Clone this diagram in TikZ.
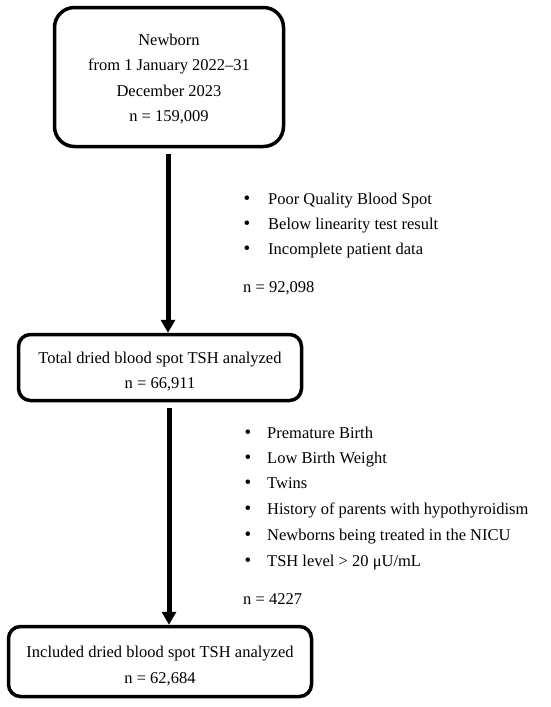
\documentclass[tikz,border=0pt]{standalone}
\usepackage{fontspec}
\setmainfont{Liberation Serif}
\usetikzlibrary{arrows.meta}
\tikzset{
  flowbox/.style={draw, line width=3.5pt, inner sep=0pt},
  boxtext/.style={align=center, inner sep=0pt, font=\fontsize{16.5}{25.5}\selectfont},
  flowarrow/.style={line width=5pt, -{Triangle[width=14pt,length=13pt]}, shorten <=6pt},
  itemtext/.style={anchor=base west, inner sep=0pt, font=\fontsize{16.5}{19}\selectfont},
  bulletdot/.style={anchor=base, inner sep=0pt, font=\fontsize{19}{19}\selectfont},
}
\begin{document}
\begin{tikzpicture}[x=1pt,y=-1pt]
\useasboundingbox (0,0) rectangle (550,707);
% boxes
\node[flowbox, rounded corners=20pt, minimum width=229pt, minimum height=139pt] (box1) at (169,77) {};
\node[boxtext] (box1t) at (169,79) {Newborn\\from 1 January 2022--31\\December 2023\\n = 159,009};
\node[flowbox, rounded corners=12pt, minimum width=283pt, minimum height=66pt] (box2) at (160,367.5) {};
\node[boxtext] (box2t) at (160,371.5) {Total dried blood spot TSH analyzed\\n = 66,911};
\node[flowbox, rounded corners=12pt, minimum width=303pt, minimum height=70pt] (box3) at (160,661.5) {};
\node[boxtext] (box3t) at (160,666) {Included dried blood spot TSH analyzed\\n = 62,684};
% arrows
\draw[flowarrow] ([xshift=-1pt]box1.south) -- ([xshift=-1pt]box1.south |- box2.north);
\draw[flowarrow] ([xshift=9pt]box2.south) -- ([xshift=9pt]box2.south |- box3.north);
% list 1
\node[bulletdot] (b11) at (247,204) {\textbullet};
\node[itemtext] (t11) at (268,204) {Poor Quality Blood Spot};
\node[bulletdot] (b12) at (247,229) {\textbullet};
\node[itemtext] (t12) at (268,229) {Below linearity test result};
\node[bulletdot] (b13) at (247,254) {\textbullet};
\node[itemtext] (t13) at (268,254) {Incomplete patient data};
\node[itemtext] (n1) at (243,292) {n = 92,098};
% list 2
\node[bulletdot] (b21) at (248,438) {\textbullet};
\node[itemtext] (t21) at (267,438) {Premature Birth};
\node[bulletdot] (b22) at (248,463) {\textbullet};
\node[itemtext] (t22) at (267,463) {Low Birth Weight};
\node[bulletdot] (b23) at (248,488) {\textbullet};
\node[itemtext] (t23) at (267,488) {Twins};
\node[bulletdot] (b24) at (248,514) {\textbullet};
\node[itemtext] (t24) at (267,514) {History of parents with hypothyroidism};
\node[bulletdot] (b25) at (248,540) {\textbullet};
\node[itemtext] (t25) at (267,540) {Newborns being treated in the NICU};
\node[bulletdot] (b26) at (248,566) {\textbullet};
\node[itemtext] (t26) at (267,566) {TSH level > 20 μU/mL};
\node[itemtext] (n2) at (243,604) {n = 4227};
\end{tikzpicture}
\end{document}
